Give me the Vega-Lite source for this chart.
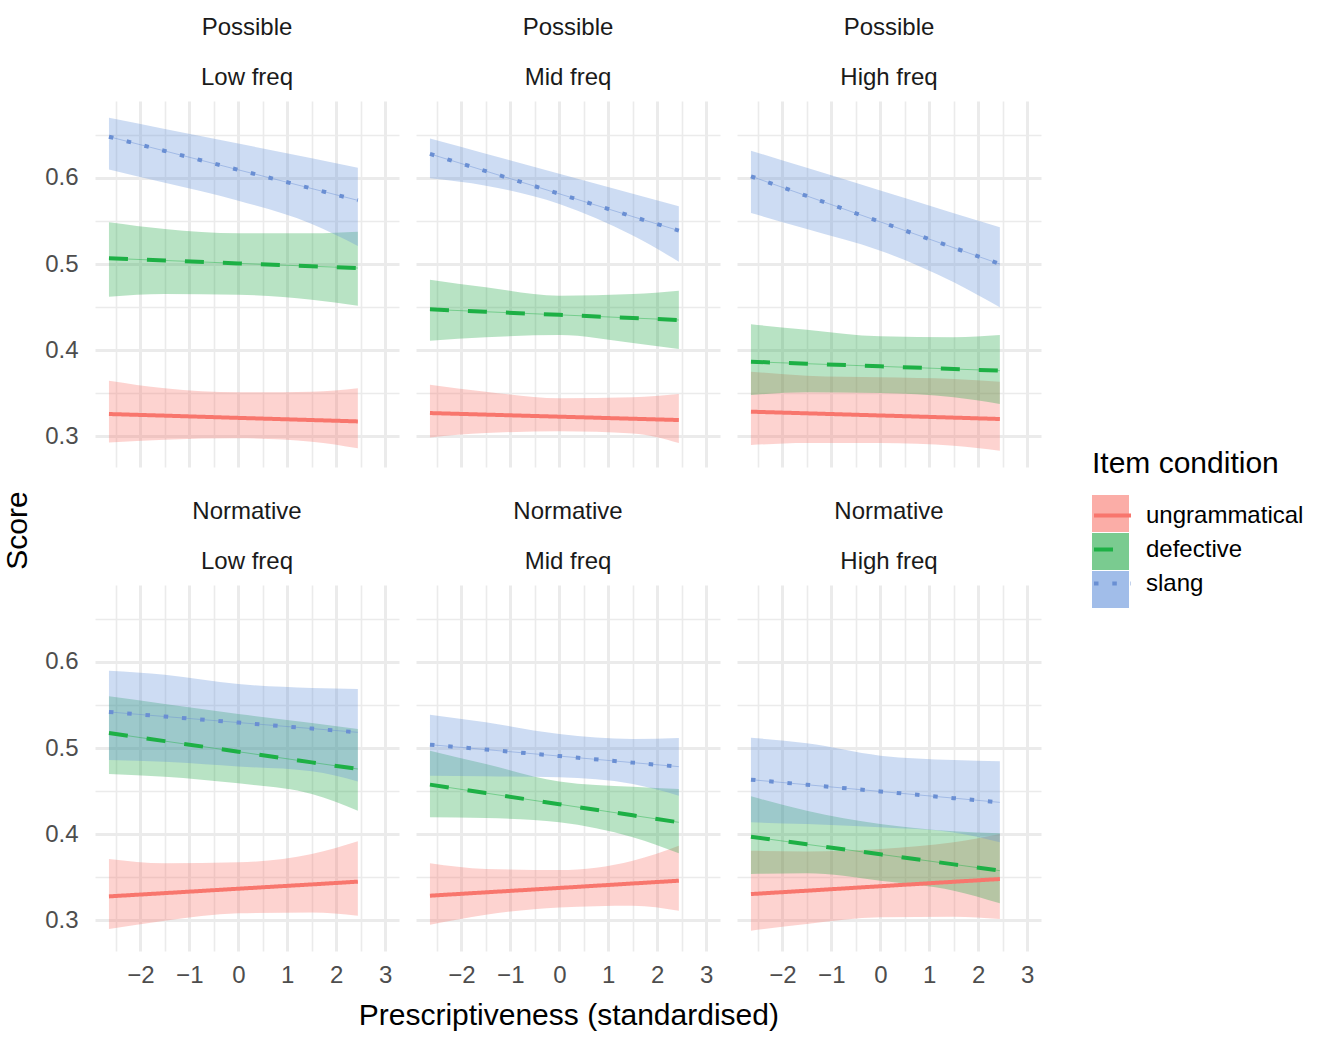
{
  "$schema": "https://vega.github.io/schema/vega-lite/v6.json",
  "background": "white",
  "padding": {"left": 2, "top": 16, "right": 0, "bottom": 5},
  "title": {"text": "Score", "orient": "left", "anchor": "middle", "fontSize": 30, "fontWeight": "normal", "color": "#000000", "font": "Liberation Sans", "offset": 12, "dx": -7},
  "data": {"values": [
    {"p":"Possible|Low freq","c":"ungrammatical","x":-2.64,"y":0.3256,"lo":0.2926,"hi":0.3643},
    {"p":"Possible|Low freq","c":"ungrammatical","x":-1.5,"y":0.3237,"lo":0.2957,"hi":0.3555},
    {"p":"Possible|Low freq","c":"ungrammatical","x":0,"y":0.3211,"lo":0.2973,"hi":0.3508},
    {"p":"Possible|Low freq","c":"ungrammatical","x":1.5,"y":0.3186,"lo":0.2934,"hi":0.3515},
    {"p":"Possible|Low freq","c":"ungrammatical","x":2.44,"y":0.317,"lo":0.2857,"hi":0.3555},
    {"p":"Possible|Low freq","c":"defective","x":-2.64,"y":0.5066,"lo":0.462,"hi":0.5485},
    {"p":"Possible|Low freq","c":"defective","x":-1.5,"y":0.5041,"lo":0.465,"hi":0.5407},
    {"p":"Possible|Low freq","c":"defective","x":0,"y":0.5007,"lo":0.4643,"hi":0.5357},
    {"p":"Possible|Low freq","c":"defective","x":1.5,"y":0.4974,"lo":0.4585,"hi":0.5357},
    {"p":"Possible|Low freq","c":"defective","x":2.44,"y":0.4953,"lo":0.4515,"hi":0.5376},
    {"p":"Possible|Low freq","c":"slang","x":-2.64,"y":0.648,"lo":0.61,"hi":0.67},
    {"p":"Possible|Low freq","c":"slang","x":-1.5,"y":0.6314,"lo":0.5945,"hi":0.657},
    {"p":"Possible|Low freq","c":"slang","x":0,"y":0.6095,"lo":0.5736,"hi":0.64},
    {"p":"Possible|Low freq","c":"slang","x":1.5,"y":0.5877,"lo":0.5465,"hi":0.623},
    {"p":"Possible|Low freq","c":"slang","x":2.44,"y":0.574,"lo":0.521,"hi":0.612},

    {"p":"Possible|Mid freq","c":"ungrammatical","x":-2.64,"y":0.3267,"lo":0.2984,"hi":0.3597},
    {"p":"Possible|Mid freq","c":"ungrammatical","x":-1.5,"y":0.3249,"lo":0.3035,"hi":0.3516},
    {"p":"Possible|Mid freq","c":"ungrammatical","x":0,"y":0.3225,"lo":0.3055,"hi":0.3438},
    {"p":"Possible|Mid freq","c":"ungrammatical","x":1.5,"y":0.3201,"lo":0.303,"hi":0.345},
    {"p":"Possible|Mid freq","c":"ungrammatical","x":2.44,"y":0.3186,"lo":0.2919,"hi":0.3488},
    {"p":"Possible|Mid freq","c":"defective","x":-2.64,"y":0.4473,"lo":0.4108,"hi":0.4818},
    {"p":"Possible|Mid freq","c":"defective","x":-1.5,"y":0.4445,"lo":0.4147,"hi":0.473},
    {"p":"Possible|Mid freq","c":"defective","x":0,"y":0.4409,"lo":0.4174,"hi":0.4632},
    {"p":"Possible|Mid freq","c":"defective","x":1.5,"y":0.4372,"lo":0.4081,"hi":0.465},
    {"p":"Possible|Mid freq","c":"defective","x":2.44,"y":0.4349,"lo":0.4012,"hi":0.469},
    {"p":"Possible|Mid freq","c":"slang","x":-2.64,"y":0.628,"lo":0.5996,"hi":0.646},
    {"p":"Possible|Mid freq","c":"slang","x":-1.5,"y":0.608,"lo":0.591,"hi":0.6283},
    {"p":"Possible|Mid freq","c":"slang","x":0,"y":0.5816,"lo":0.5698,"hi":0.605},
    {"p":"Possible|Mid freq","c":"slang","x":1.5,"y":0.5551,"lo":0.533,"hi":0.5816},
    {"p":"Possible|Mid freq","c":"slang","x":2.44,"y":0.5388,"lo":0.5027,"hi":0.567},

    {"p":"Possible|High freq","c":"ungrammatical","x":-2.64,"y":0.3283,"lo":0.2895,"hi":0.3748},
    {"p":"Possible|High freq","c":"ungrammatical","x":-1.5,"y":0.3264,"lo":0.2919,"hi":0.3702},
    {"p":"Possible|High freq","c":"ungrammatical","x":0,"y":0.3239,"lo":0.2919,"hi":0.3683},
    {"p":"Possible|High freq","c":"ungrammatical","x":1.5,"y":0.3214,"lo":0.2887,"hi":0.3663},
    {"p":"Possible|High freq","c":"ungrammatical","x":2.44,"y":0.3198,"lo":0.2829,"hi":0.3632},
    {"p":"Possible|High freq","c":"defective","x":-2.64,"y":0.3864,"lo":0.3477,"hi":0.4299},
    {"p":"Possible|High freq","c":"defective","x":-1.5,"y":0.3841,"lo":0.3508,"hi":0.4236},
    {"p":"Possible|High freq","c":"defective","x":0,"y":0.381,"lo":0.35,"hi":0.4159},
    {"p":"Possible|High freq","c":"defective","x":1.5,"y":0.3779,"lo":0.345,"hi":0.4148},
    {"p":"Possible|High freq","c":"defective","x":2.44,"y":0.376,"lo":0.3372,"hi":0.4174},
    {"p":"Possible|High freq","c":"slang","x":-2.64,"y":0.602,"lo":0.5593,"hi":0.6318},
    {"p":"Possible|High freq","c":"slang","x":-1.5,"y":0.5791,"lo":0.5407,"hi":0.6118},
    {"p":"Possible|High freq","c":"slang","x":0,"y":0.549,"lo":0.5155,"hi":0.5855},
    {"p":"Possible|High freq","c":"slang","x":1.5,"y":0.5189,"lo":0.4787,"hi":0.5591},
    {"p":"Possible|High freq","c":"slang","x":2.44,"y":0.5,"lo":0.4496,"hi":0.5427},

    {"p":"Normative|Low freq","c":"ungrammatical","x":-2.64,"y":0.3275,"lo":0.2895,"hi":0.3709},
    {"p":"Normative|Low freq","c":"ungrammatical","x":-1.5,"y":0.3313,"lo":0.2992,"hi":0.3659},
    {"p":"Normative|Low freq","c":"ungrammatical","x":0,"y":0.3364,"lo":0.3078,"hi":0.3671},
    {"p":"Normative|Low freq","c":"ungrammatical","x":1.5,"y":0.3414,"lo":0.3089,"hi":0.3767},
    {"p":"Normative|Low freq","c":"ungrammatical","x":2.44,"y":0.3446,"lo":0.305,"hi":0.3915},
    {"p":"Normative|Low freq","c":"defective","x":-2.64,"y":0.5174,"lo":0.4698,"hi":0.5601},
    {"p":"Normative|Low freq","c":"defective","x":-1.5,"y":0.508,"lo":0.4667,"hi":0.5512},
    {"p":"Normative|Low freq","c":"defective","x":0,"y":0.4957,"lo":0.4589,"hi":0.5395},
    {"p":"Normative|Low freq","c":"defective","x":1.5,"y":0.4833,"lo":0.4465,"hi":0.5291},
    {"p":"Normative|Low freq","c":"defective","x":2.44,"y":0.4756,"lo":0.4271,"hi":0.5221},
    {"p":"Normative|Low freq","c":"slang","x":-2.64,"y":0.5419,"lo":0.486,"hi":0.5899},
    {"p":"Normative|Low freq","c":"slang","x":-1.5,"y":0.5366,"lo":0.4841,"hi":0.5853},
    {"p":"Normative|Low freq","c":"slang","x":0,"y":0.5296,"lo":0.4785,"hi":0.5744},
    {"p":"Normative|Low freq","c":"slang","x":1.5,"y":0.5226,"lo":0.4729,"hi":0.5698},
    {"p":"Normative|Low freq","c":"slang","x":2.44,"y":0.5182,"lo":0.4612,"hi":0.5686},

    {"p":"Normative|Mid freq","c":"ungrammatical","x":-2.64,"y":0.3283,"lo":0.2946,"hi":0.3659},
    {"p":"Normative|Mid freq","c":"ungrammatical","x":-1.5,"y":0.3322,"lo":0.3062,"hi":0.3593},
    {"p":"Normative|Mid freq","c":"ungrammatical","x":0,"y":0.3373,"lo":0.3147,"hi":0.3581},
    {"p":"Normative|Mid freq","c":"ungrammatical","x":1.5,"y":0.3425,"lo":0.3167,"hi":0.369},
    {"p":"Normative|Mid freq","c":"ungrammatical","x":2.44,"y":0.3457,"lo":0.3109,"hi":0.3864},
    {"p":"Normative|Mid freq","c":"defective","x":-2.64,"y":0.4574,"lo":0.4194,"hi":0.4969},
    {"p":"Normative|Mid freq","c":"defective","x":-1.5,"y":0.4476,"lo":0.4186,"hi":0.4814},
    {"p":"Normative|Mid freq","c":"defective","x":0,"y":0.4346,"lo":0.4136,"hi":0.4612},
    {"p":"Normative|Mid freq","c":"defective","x":1.5,"y":0.4217,"lo":0.3961,"hi":0.455},
    {"p":"Normative|Mid freq","c":"defective","x":2.44,"y":0.4136,"lo":0.3775,"hi":0.4523},
    {"p":"Normative|Mid freq","c":"slang","x":-2.64,"y":0.5039,"lo":0.4678,"hi":0.5388},
    {"p":"Normative|Mid freq","c":"slang","x":-1.5,"y":0.4982,"lo":0.4671,"hi":0.5298},
    {"p":"Normative|Mid freq","c":"slang","x":0,"y":0.4906,"lo":0.4659,"hi":0.5163},
    {"p":"Normative|Mid freq","c":"slang","x":1.5,"y":0.483,"lo":0.4581,"hi":0.5105},
    {"p":"Normative|Mid freq","c":"slang","x":2.44,"y":0.4783,"lo":0.4446,"hi":0.5116},

    {"p":"Normative|High freq","c":"ungrammatical","x":-2.64,"y":0.3302,"lo":0.2876,"hi":0.3806},
    {"p":"Normative|High freq","c":"ungrammatical","x":-1.5,"y":0.3341,"lo":0.2953,"hi":0.3798},
    {"p":"Normative|High freq","c":"ungrammatical","x":0,"y":0.3393,"lo":0.3031,"hi":0.3826},
    {"p":"Normative|High freq","c":"ungrammatical","x":1.5,"y":0.3445,"lo":0.3039,"hi":0.3903},
    {"p":"Normative|High freq","c":"ungrammatical","x":2.44,"y":0.3477,"lo":0.3012,"hi":0.4},
    {"p":"Normative|High freq","c":"defective","x":-2.64,"y":0.3969,"lo":0.3535,"hi":0.4438},
    {"p":"Normative|High freq","c":"defective","x":-1.5,"y":0.388,"lo":0.3543,"hi":0.4271},
    {"p":"Normative|High freq","c":"defective","x":0,"y":0.3764,"lo":0.3457,"hi":0.4116},
    {"p":"Normative|High freq","c":"defective","x":1.5,"y":0.3647,"lo":0.3341,"hi":0.4031},
    {"p":"Normative|High freq","c":"defective","x":2.44,"y":0.3574,"lo":0.3194,"hi":0.4008},
    {"p":"Normative|High freq","c":"slang","x":-2.64,"y":0.4632,"lo":0.4136,"hi":0.512},
    {"p":"Normative|High freq","c":"slang","x":-1.5,"y":0.4573,"lo":0.4116,"hi":0.5054},
    {"p":"Normative|High freq","c":"slang","x":0,"y":0.4495,"lo":0.4078,"hi":0.4911},
    {"p":"Normative|High freq","c":"slang","x":1.5,"y":0.4417,"lo":0.4019,"hi":0.486},
    {"p":"Normative|High freq","c":"slang","x":2.44,"y":0.4368,"lo":0.3903,"hi":0.4845}
  ]},
  "spacing": 33,
  "vconcat": [
    {
      "transform": [{"filter": "indexof(datum.p, 'Possible') === 0"}],
      "facet": {"column": {"field": "p", "type": "nominal",
        "sort": ["Possible|Low freq","Possible|Mid freq","Possible|High freq"],
        "header": {"title": null, "labelExpr": "split(datum.value, '|')"}}},
      "spacing": 17,
      "spec": {
        "width": 304,
        "height": 366,
        "encoding": {
          "x": {"field": "x", "type": "quantitative", "title": null,
            "scale": {"domain": [-2.925, 3.28], "nice": false, "zero": false},
            "axis": {"values": [-2.5,-2,-1.5,-1,-0.5,0,0.5,1,1.5,2,2.5,3], "labels": false,
              "gridWidth": {"condition": {"test": "round(datum.value*10) % 10 !== 0", "value": 1.6}, "value": 3}}}
        },
        "layer": [
          {
            "mark": {"type": "area", "fillOpacity": 0.32, "interpolate": "monotone"},
            "encoding": {
              "y": {"field": "lo", "type": "quantitative", "title": null,
                "scale": {"domain": [0.264, 0.6895], "nice": false, "zero": false},
                "axis": {"values": [0.3,0.35,0.4,0.45,0.5,0.55,0.6,0.65], "format": ".1f",
                  "labelExpr": "round(datum.value*100) % 10 === 0 ? datum.label : ''",
                  "gridWidth": {"condition": {"test": "round(datum.value*100) % 10 !== 0", "value": 1.6}, "value": 3},
                  "labelPadding": 17}},
              "y2": {"field": "hi"},
              "fill": {"field": "c", "type": "nominal", "sort": ["ungrammatical","defective","slang"],
                "scale": {"range": ["#F8766D", "#22A846", "#6391DA"]},
                "legend": {"title": " ", "labelExpr": "''",
                  "orient": "none", "legendX": 997, "legendY": 348,
                  "symbolType": "square", "symbolSize": 1369, "symbolOpacity": 0.6, "symbolStrokeWidth": 0}}
            }
          },
          {
            "mark": {"type": "line", "strokeWidth": 0.8, "opacity": 0.55},
            "encoding": {
              "y": {"field": "y", "type": "quantitative", "title": null},
              "color": {"field": "c", "type": "nominal", "sort": "ascending",
                "scale": {"range": ["#1DB045", "#6A8FD3", "#F8766D"]}, "legend": null}
            }
          },
          {
            "mark": {"type": "line", "strokeWidth": 4, "strokeCap": "butt"},
            "encoding": {
              "y": {"field": "y", "type": "quantitative", "title": null},
              "stroke": {"field": "c", "type": "nominal",
                "scale": {"domain": ["ungrammatical","defective","slang"], "range": ["#F8766D", "#1DB045", "#6A8FD3"]},
                "legend": {"title": "Item condition", "orient": "none", "legendX": 997, "legendY": 348,
                  "symbolType": "stroke", "symbolSize": 1369, "symbolStrokeWidth": 4}},
              "strokeDash": {"field": "c", "type": "nominal",
                "scale": {"domain": ["ungrammatical","defective","slang"], "range": [[1,0],[19,19],[4.5,13.8]]},
                "legend": {"title": "Item condition", "orient": "none", "legendX": 997, "legendY": 348,
                  "symbolType": "stroke", "symbolSize": 1369, "symbolStrokeWidth": 4}}
            }
          }
        ]
      }
    },
    {
      "transform": [{"filter": "indexof(datum.p, 'Normative') === 0"}],
      "title": {"text": "Prescriptiveness (standardised)", "orient": "bottom", "anchor": "middle",
        "fontSize": 30, "fontWeight": "normal", "color": "#000000", "font": "Liberation Sans", "offset": 14, "dx": 26},
      "facet": {"column": {"field": "p", "type": "nominal",
        "sort": ["Normative|Low freq","Normative|Mid freq","Normative|High freq"],
        "header": {"title": null, "labelExpr": "split(datum.value, '|')"}}},
      "spacing": 17,
      "spec": {
        "width": 304,
        "height": 366,
        "encoding": {
          "x": {"field": "x", "type": "quantitative", "title": null,
            "scale": {"domain": [-2.925, 3.28], "nice": false, "zero": false},
            "axis": {"values": [-2.5,-2,-1.5,-1,-0.5,0,0.5,1,1.5,2,2.5,3], "format": ".0f",
              "labelExpr": "round(datum.value*10) % 10 === 0 ? datum.label : ''",
              "gridWidth": {"condition": {"test": "round(datum.value*10) % 10 !== 0", "value": 1.6}, "value": 3},
              "labelPadding": 12}}
        },
        "layer": [
          {
            "mark": {"type": "area", "fillOpacity": 0.32, "interpolate": "monotone"},
            "encoding": {
              "y": {"field": "lo", "type": "quantitative", "title": null,
                "scale": {"domain": [0.264, 0.6895], "nice": false, "zero": false},
                "axis": {"values": [0.3,0.35,0.4,0.45,0.5,0.55,0.6,0.65], "format": ".1f",
                  "labelExpr": "round(datum.value*100) % 10 === 0 ? datum.label : ''",
                  "gridWidth": {"condition": {"test": "round(datum.value*100) % 10 !== 0", "value": 1.6}, "value": 3},
                  "labelPadding": 17}},
              "y2": {"field": "hi"},
              "fill": {"field": "c", "type": "nominal", "sort": ["ungrammatical","defective","slang"],
                "scale": {"range": ["#F8766D", "#22A846", "#6391DA"]},
                "legend": {"title": " ", "labelExpr": "''",
                  "orient": "none", "legendX": 997, "legendY": 348,
                  "symbolType": "square", "symbolSize": 1369, "symbolOpacity": 0.6, "symbolStrokeWidth": 0}}
            }
          },
          {
            "mark": {"type": "line", "strokeWidth": 0.8, "opacity": 0.55},
            "encoding": {
              "y": {"field": "y", "type": "quantitative", "title": null},
              "color": {"field": "c", "type": "nominal", "sort": "ascending",
                "scale": {"range": ["#1DB045", "#6A8FD3", "#F8766D"]}, "legend": null}
            }
          },
          {
            "mark": {"type": "line", "strokeWidth": 4, "strokeCap": "butt"},
            "encoding": {
              "y": {"field": "y", "type": "quantitative", "title": null},
              "stroke": {"field": "c", "type": "nominal",
                "scale": {"domain": ["ungrammatical","defective","slang"], "range": ["#F8766D", "#1DB045", "#6A8FD3"]},
                "legend": {"title": "Item condition", "orient": "none", "legendX": 997, "legendY": 348,
                  "symbolType": "stroke", "symbolSize": 1369, "symbolStrokeWidth": 4}},
              "strokeDash": {"field": "c", "type": "nominal",
                "scale": {"domain": ["ungrammatical","defective","slang"], "range": [[1,0],[19,19],[4.5,13.8]]},
                "legend": {"title": "Item condition", "orient": "none", "legendX": 997, "legendY": 348,
                  "symbolType": "stroke", "symbolSize": 1369, "symbolStrokeWidth": 4}}
            }
          }
        ]
      }
    }
  ],
  "config": {
    "font": "Liberation Sans",
    "view": {"stroke": null},
    "axis": {"domain": false, "ticks": false, "tickSize": 0, "gridColor": "#EBEBEB",
      "labelFontSize": 24, "labelColor": "#4D4D4D", "labelFont": "Liberation Sans",
      "titleFontSize": 30, "titleColor": "#000000", "titleFontWeight": "normal", "titleFont": "Liberation Sans",
      "labelOverlap": false, "labelFlush": false},
    "header": {"labelFontSize": 24, "labelColor": "#1A1A1A", "labelFont": "Liberation Sans",
      "labelLineHeight": 50, "labelPadding": -13, "labelBaseline": "bottom"},
    "legend": {"titleFontSize": 30, "titleFontWeight": "normal", "titleColor": "#000000", "titleFont": "Liberation Sans",
      "labelFontSize": 24, "labelColor": "#000000", "labelFont": "Liberation Sans",
      "titlePadding": 16, "rowPadding": 1, "labelOffset": 13, "titleLimit": 500, "labelLimit": 400}
  }
}
